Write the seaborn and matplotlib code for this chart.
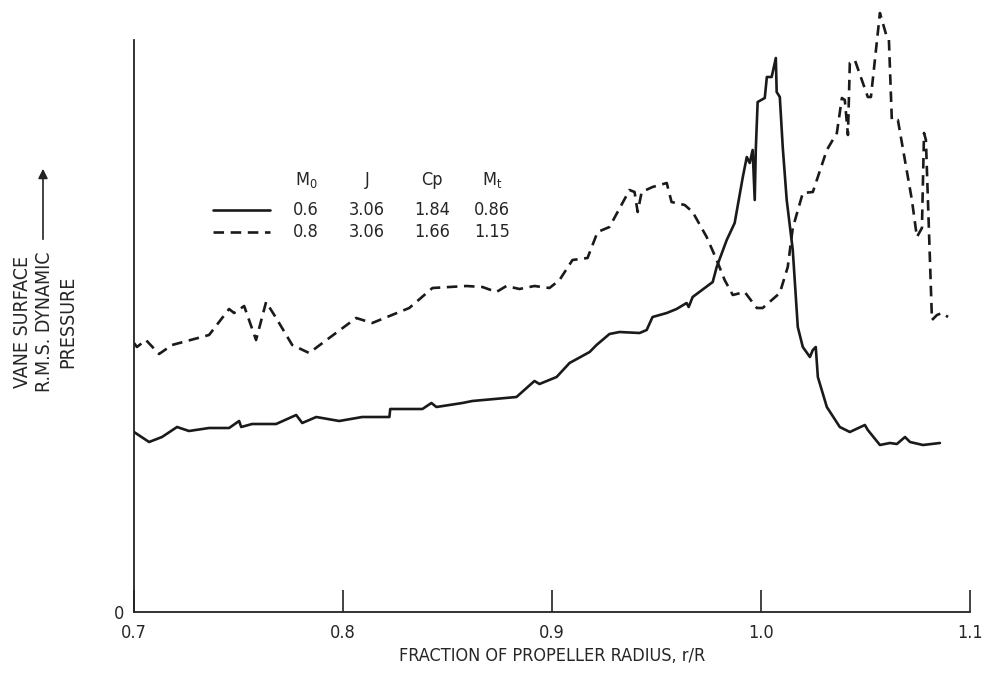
import matplotlib
matplotlib.use("Agg")
import matplotlib.pyplot as plt
import pandas as pd
import seaborn as sns
from matplotlib.lines import Line2D

# Solid curve: M0 = 0.6
solid_r = [0.7000, 0.7072, 0.7134, 0.7206, 0.7263, 0.7359, 0.7455, 0.7503, 0.7513, 0.7565,
           0.7680, 0.7776, 0.7805, 0.7872, 0.7982, 0.8092, 0.8222, 0.8226, 0.8380, 0.8423,
           0.8447, 0.8571, 0.8619, 0.8830, 0.8916, 0.8940, 0.9022, 0.9084, 0.9180, 0.9213,
           0.9275, 0.9323, 0.9419, 0.9453, 0.9481, 0.9549, 0.9596, 0.9644, 0.9654, 0.9673,
           0.9769, 0.9788, 0.9836, 0.9874, 0.9913, 0.9932, 0.9946, 0.9960, 0.9970, 0.9975,
           0.9984, 1.0018, 1.0028, 1.0051, 1.0071, 1.0075, 1.0090, 1.0104, 1.0123, 1.0152,
           1.0176, 1.0200, 1.0234, 1.0248, 1.0262, 1.0272, 1.0315, 1.0377, 1.0425, 1.0497,
           1.0511, 1.0569, 1.0617, 1.0650, 1.0689, 1.0713, 1.0775, 1.0856]
solid_p = [1.80, 1.70, 1.75, 1.85, 1.81, 1.84, 1.84, 1.91, 1.85, 1.88,
           1.88, 1.97, 1.89, 1.95, 1.91, 1.95, 1.95, 2.03, 2.03, 2.09,
           2.05, 2.09, 2.11, 2.15, 2.31, 2.28, 2.35, 2.49, 2.60, 2.67,
           2.78, 2.80, 2.79, 2.82, 2.95, 2.99, 3.03, 3.09, 3.05, 3.15,
           3.30, 3.45, 3.72, 3.89, 4.35, 4.55, 4.49, 4.62, 4.12, 4.62,
           5.10, 5.14, 5.35, 5.35, 5.54, 5.20, 5.15, 4.65, 4.12, 3.62,
           2.85, 2.65, 2.55, 2.62, 2.65, 2.35, 2.05, 1.85, 1.80, 1.87,
           1.82, 1.67, 1.69, 1.68, 1.75, 1.70, 1.67, 1.69]

# Dashed curve: M0 = 0.8
dashed_r = [0.7000, 0.7014, 0.7057, 0.7120, 0.7182, 0.7359, 0.7455, 0.7479, 0.7527, 0.7584,
            0.7632, 0.7680, 0.7757, 0.7838, 0.7934, 0.8063, 0.8140, 0.8317, 0.8428, 0.8590,
            0.8667, 0.8734, 0.8782, 0.8844, 0.8916, 0.8988, 0.9036, 0.9098, 0.9170, 0.9218,
            0.9275, 0.9371, 0.9395, 0.9410, 0.9429, 0.9481, 0.9549, 0.9572, 0.9635, 0.9673,
            0.9740, 0.9788, 0.9826, 0.9865, 0.9922, 0.9980, 1.0008, 1.0090, 1.0128, 1.0152,
            1.0200, 1.0248, 1.0315, 1.0363, 1.0387, 1.0401, 1.0416, 1.0425, 1.0449, 1.0511,
            1.0526, 1.0569, 1.0602, 1.0612, 1.0626, 1.0655, 1.0722, 1.0746, 1.0770, 1.0780,
            1.0789, 1.0818, 1.0842, 1.0866, 1.0895]
dashed_p = [2.69, 2.65, 2.72, 2.58, 2.67, 2.77, 3.03, 2.99, 3.06, 2.72,
            3.10, 2.94, 2.67, 2.59, 2.74, 2.94, 2.89, 3.04, 3.24, 3.26,
            3.25, 3.20, 3.26, 3.23, 3.26, 3.24, 3.32, 3.52, 3.54, 3.80,
            3.85, 4.22, 4.20, 4.00, 4.20, 4.25, 4.29, 4.10, 4.07, 4.00,
            3.75, 3.52, 3.32, 3.17, 3.20, 3.04, 3.04, 3.19, 3.45, 3.84,
            4.19, 4.20, 4.62, 4.79, 5.14, 5.12, 4.77, 5.49, 5.52, 5.15,
            5.15, 5.99, 5.75, 5.72, 4.92, 4.92, 4.12, 3.75, 3.84, 4.79,
            4.72, 2.92, 2.97, 2.99, 2.95]

x_ticks = [0.7, 0.8, 0.9, 1.0, 1.1]
x_ticklabels = ["0.7", "0.8", "0.9", "1.0", "1.1"]

# Legend table
table_header = [r"$\mathregular{M_0}$", "J", "Cp", r"$\mathregular{M_t}$"]
table_rows = [["0.6", "3.06", "1.84", "0.86"],
              ["0.8", "3.06", "1.66", "1.15"]]

sns.set_style("ticks")
plt.rcParams["font.family"] = ["DejaVu Sans"]
plt.rcParams["font.stretch"] = "condensed"
plt.rcParams["font.size"] = 13

df = pd.concat([
    pd.DataFrame({"r": solid_r, "p": solid_p, "case": "solid"}),
    pd.DataFrame({"r": dashed_r, "p": dashed_p, "case": "dashed"}),
], ignore_index=True)

fig = plt.figure(figsize=(9.93, 6.77), dpi=100)
ax = fig.add_axes([134 / 993, 65 / 677, 836 / 993, 612 / 677])

sns.lineplot(
    data=df, x="r", y="p", style="case",
    dashes={"solid": "", "dashed": (4, 2.5)},
    color="#1a1a1a", linewidth=1.9, sort=False, estimator=None,
    legend=False, ax=ax,
)

ax.set_xlim(0.7, 1.1)
ax.set_ylim(0, 6.12)
ax.spines["top"].set_visible(False)
ax.spines["right"].set_visible(False)
ax.spines["left"].set_bounds(0, 5.72)
for s in ("left", "bottom"):
    ax.spines[s].set_linewidth(1.3)
    ax.spines[s].set_color("#222222")

ax.set_xticks(x_ticks)
ax.set_xticklabels(x_ticklabels)
ax.tick_params(axis="x", direction="in", length=16, width=1.2, pad=9,
               labelsize=13, color="#222222")
ax.set_yticks([0])
ax.set_yticklabels(["0"])
ax.tick_params(axis="y", length=0, pad=7, labelsize=13)

ax.set_xlabel("FRACTION OF PROPELLER RADIUS, r/R", fontsize=13, labelpad=3)
ax.set_ylabel("")

# y label with arrow
fig.text(45 / 993, 1 - 322 / 677, "VANE SURFACE\nR.M.S. DYNAMIC\nPRESSURE",
         rotation=90, ha="center", va="center", multialignment="center",
         fontsize=14, linespacing=1.25)
fig.add_artist(matplotlib.patches.FancyArrowPatch(
    (43 / 993, 1 - 242 / 677), (43 / 993, 1 - 166 / 677),
    transform=fig.transFigure, arrowstyle="-|>", mutation_scale=14,
    color="#222222", linewidth=1.2))

# legend table
col_x = [306, 367, 432, 492]
header_y, row_y = 180, [210, 232]
to_ax = lambda px, py: ((px - 134) / 836, (612 - py) / 612)
for cx, txt in zip(col_x, table_header):
    ax.text(*to_ax(cx, header_y), txt, transform=ax.transAxes,
            ha="center", va="center", fontsize=13)
styles = ["-", (0, (4, 2.5))]
for ry, row, ls in zip(row_y, table_rows, styles):
    x0, y0 = to_ax(213, ry)
    x1, _ = to_ax(270, ry)
    ax.add_line(Line2D([x0, x1], [y0, y0], transform=ax.transAxes,
                       color="#1a1a1a", linewidth=1.9, linestyle=ls))
    for cx, txt in zip(col_x, row):
        ax.text(*to_ax(cx, ry), txt, transform=ax.transAxes,
                ha="center", va="center", fontsize=13)

fig.savefig("out.png", dpi=100)
